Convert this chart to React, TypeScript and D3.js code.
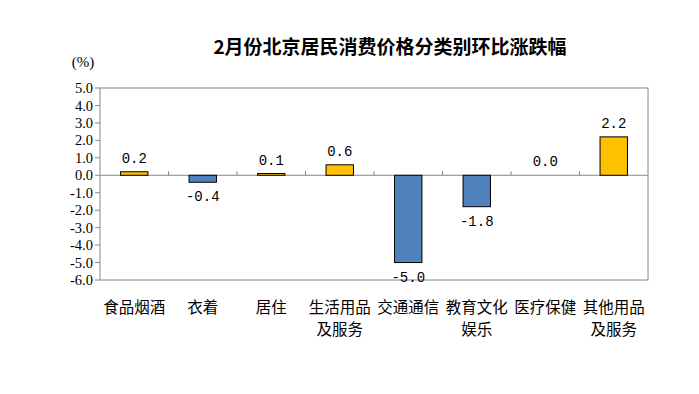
import * as d3 from 'd3'

const TITLE = '2月份北京居民消费价格分类别环比涨跌幅'
const UNIT = '(%)'
const CATEGORIES = [
  ['食品烟酒'],
  ['衣着'],
  ['居住'],
  ['生活用品', '及服务'],
  ['交通通信'],
  ['教育文化', '娱乐'],
  ['医疗保健'],
  ['其他用品', '及服务'],
]
const VALUES = [0.2, -0.4, 0.1, 0.6, -5.0, -1.8, 0.0, 2.2]
const Y_TICKS = [5, 4, 3, 2, 1, 0, -1, -2, -3, -4, -5, -6]

const WIDTH = 699
const HEIGHT = 394
const LEFT = 100
const RIGHT = 648
const TOP = 88
const BOTTOM = 280

const POS_COLOR = '#FFC000'
const NEG_COLOR = '#4F81BD'
const NUM_FONT = '"Liberation Mono", "DejaVu Sans Mono", monospace'
const CJK_FONT = '"Noto Sans CJK SC", sans-serif'

export default function App() {
  const x = d3
    .scaleBand<number>()
    .domain(d3.range(CATEGORIES.length))
    .range([LEFT, RIGHT])
    .paddingInner(0.6)
    .paddingOuter(0.3)
  const step = (RIGHT - LEFT) / CATEGORIES.length
  const y = d3.scaleLinear([-6, 5], [BOTTOM, TOP])
  const y0 = y(0)

  return (
    <svg
      width={WIDTH}
      height={HEIGHT}
      viewBox={`0 0 ${WIDTH} ${HEIGHT}`}
      style={{ position: 'absolute', left: 0, top: 0, background: '#fff' }}
    >
      <text x={390} y={54} textAnchor="middle" fontFamily={CJK_FONT} fontWeight="bold" fontSize={19} fill="#000">
        {TITLE}
      </text>
      <text x={83} y={67} textAnchor="middle" fontFamily='"Liberation Serif", serif' fontSize={15} fill="#000">
        {UNIT}
      </text>

      {/* frame */}
      <rect x={LEFT} y={TOP} width={RIGHT - LEFT} height={BOTTOM - TOP} fill="none" stroke="#888" strokeWidth={1} />

      {/* y axis ticks and labels */}
      {Y_TICKS.map((t) => (
        <g key={t}>
          <line x1={LEFT - 5} x2={LEFT} y1={y(t)} y2={y(t)} stroke="#888" />
          <text
            x={LEFT - 7}
            y={y(t)}
            dy="0.35em"
            textAnchor="end"
            fontFamily='"Liberation Serif", serif'
            fontSize={14.5}
            fill="#000"
          >
            {t.toFixed(1)}
          </text>
        </g>
      ))}

      {/* zero line and category ticks */}
      <line x1={LEFT} x2={RIGHT} y1={y0} y2={y0} stroke="#888" />
      {d3.range(1, CATEGORIES.length).map((i) => (
        <line key={i} x1={LEFT + i * step} x2={LEFT + i * step} y1={y0} y2={y0 - 4} stroke="#888" />
      ))}

      {/* bars */}
      {VALUES.map((v, i) => {
        const bx = x(i)!
        const bw = x.bandwidth()
        const top = Math.min(y(v), y0)
        const h = Math.abs(y(v) - y0)
        return (
          <g key={i}>
            {h > 0 && (
              <rect x={bx} y={top} width={bw} height={h} fill={v >= 0 ? POS_COLOR : NEG_COLOR} stroke="#000" strokeWidth={1} />
            )}
            <text
              x={bx + bw / 2}
              y={v >= 0 ? y(v) - 9 : y(v) + 19}
              textAnchor="middle"
              fontFamily={NUM_FONT}
              fontSize={14}
              fill="#000"
            >
              {v.toFixed(1)}
            </text>
          </g>
        )
      })}

      {/* category labels */}
      {CATEGORIES.map((lines, i) => (
        <text
          key={i}
          x={x(i)! + x.bandwidth() / 2}
          y={313}
          textAnchor="middle"
          fontFamily={CJK_FONT}
          fontSize={15.5}
          fill="#000"
        >
          {lines.map((l, j) => (
            <tspan key={j} x={x(i)! + x.bandwidth() / 2} dy={j === 0 ? 0 : 22}>
              {l}
            </tspan>
          ))}
        </text>
      ))}
    </svg>
  )
}
